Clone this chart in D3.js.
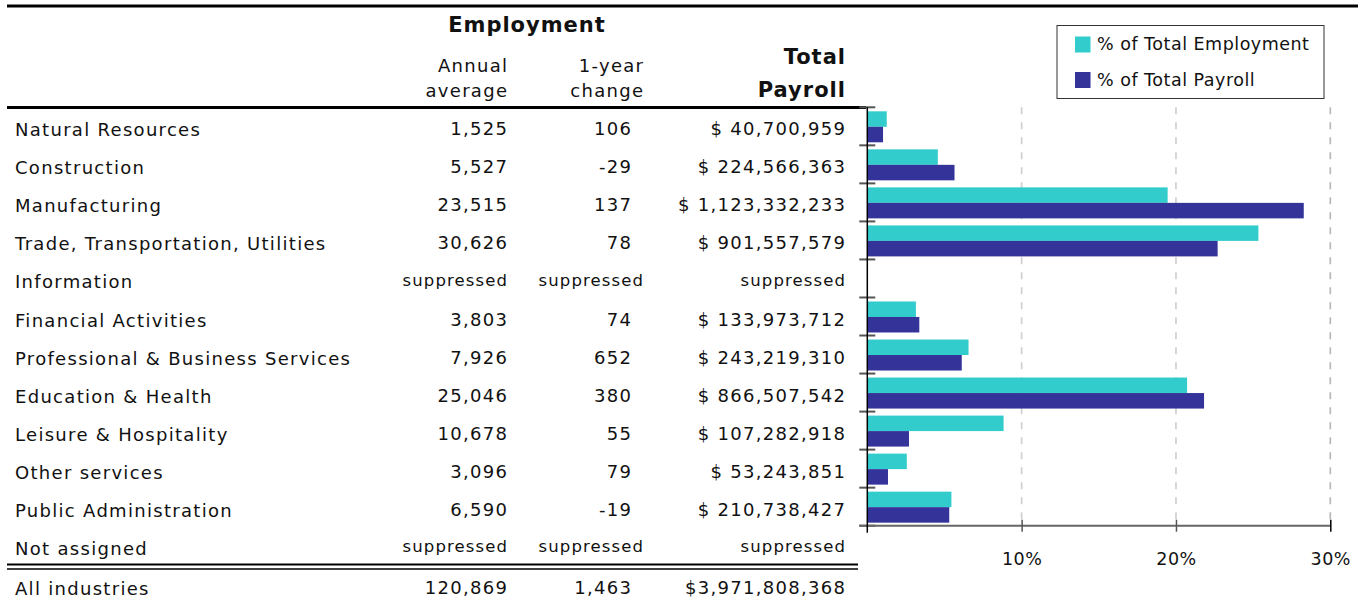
<!DOCTYPE html>
<html>
<head>
<meta charset="utf-8">
<script src="https://cdn.jsdelivr.net/npm/d3@7"></script>
<style>
  html, body { margin: 0; padding: 0; background: #fff; }
  svg { display: block; }
  text { font-family: "DejaVu Sans", sans-serif; fill: #111; }
</style>
</head>
<body>
<svg id="chart" width="1361" height="602"></svg>
<script>
// ---------------- DATA ----------------
const industries = [
  "Natural Resources", "Construction", "Manufacturing",
  "Trade, Transportation, Utilities", "Information", "Financial Activities",
  "Professional & Business Services", "Education & Health",
  "Leisure & Hospitality", "Other services", "Public Administration", "Not assigned"
];
const annualAverage = [1525, 5527, 23515, 30626, null, 3803, 7926, 25046, 10678, 3096, 6590, null];
const yearChange    = [106, -29, 137, 78, null, 74, 652, 380, 55, 79, -19, null];
const totalPayroll  = [40700959, 224566363, 1123332233, 901557579, null, 133973712,
                       243219310, 866507542, 107282918, 53243851, 210738427, null];
const totalLabel = "All industries";
const totalAnnual = 120869;
const totalChange = 1463;
const totalPay = 3971808368;

const chartCategories = industries.slice(0, 11);
const pctEmployment = [1.26, 4.57, 19.46, 25.34, null, 3.15, 6.56, 20.72, 8.83, 2.56, 5.45];
const pctPayroll    = [1.02, 5.65, 28.28, 22.70, null, 3.37, 6.12, 21.82, 2.70, 1.34, 5.31];
const seriesNames = ["% of Total Employment", "% of Total Payroll"];
const seriesColors = ["#33CCCC", "#333399"];
const xTicks = [10, 20, 30];
const headerMain = "Employment";
const headerCols = [["Annual", "average"], ["1-year", "change"]];
const headerPayroll = ["Total", "Payroll"];
const suppressedText = "suppressed";

// ---------------- LAYOUT ----------------
const svg = d3.select("#chart");
const FS = "18px";
const LS = 1.3; // letter spacing
const fmt0 = d3.format(",");
const fmt = v => fmt0(v).replace("\u2212", "-");

// top rule
svg.append("line").attr("x1", 7).attr("x2", 1358).attr("y1", 6).attr("y2", 6)
  .attr("stroke", "#000").attr("stroke-width", 3);

// table row scale
const rowY = d3.scaleBand().domain(industries).range([107.3, 107.3 + 12 * 38.04]).padding(0);
const colLabelX = 15, colAvgX = 507, colChgX = 631, colChgSupX = 643, colPayX = 845;

function txt(g, x, y, t, opts = {}) {
  const el = g.append("text").attr("x", x).attr("y", y)
    .style("font-size", opts.size || FS)
    .style("letter-spacing", (opts.ls != null ? opts.ls : LS) + "px")
    .text(t);
  if (opts.anchor) el.attr("text-anchor", opts.anchor);
  if (opts.bold) el.style("font-weight", "bold");
  return el;
}

// headers
txt(svg, 527, 32, headerMain, { anchor: "middle", size: "21px", bold: true, ls: 1 });
[[colAvgX, headerCols[0]], [colChgSupX, headerCols[1]]].forEach(([x, lines]) => {
  lines.forEach((t, i) => txt(svg, x + LS, 72 + i * 25, t, { anchor: "end" }));
});
headerPayroll.forEach((t, i) => txt(svg, colPayX + 1, 64 + i * 33, t, { anchor: "end", size: "21px", bold: true, ls: 1 }));

// header rule
svg.append("line").attr("x1", 7).attr("x2", 866).attr("y1", 107.5).attr("y2", 107.5)
  .attr("stroke", "#000").attr("stroke-width", 3);

// rows
const rows = svg.append("g");
industries.forEach((name, i) => {
  const yb = rowY(name) + 29;
  txt(rows, colLabelX, yb, name);
  const cells = [
    [annualAverage[i], colAvgX, colAvgX, v => fmt(v)],
    [yearChange[i], colChgX, colChgSupX, v => fmt(v)],
    [totalPayroll[i], colPayX, colPayX, v => "$ " + fmt(v)]
  ];
  cells.forEach(([v, x, xs, f]) => {
    if (v == null) {
      txt(rows, xs + 1, yb - 2.5, suppressedText, { anchor: "end", size: "16.5px", ls: 1.1 });
    } else {
      txt(rows, x + LS, yb - 1, f(v), { anchor: "end" });
    }
  });
});

// double rule before total
svg.append("line").attr("x1", 7).attr("x2", 858).attr("y1", 564.5).attr("y2", 564.5)
  .attr("stroke", "#000").attr("stroke-width", 2);
svg.append("line").attr("x1", 7).attr("x2", 858).attr("y1", 569).attr("y2", 569)
  .attr("stroke", "#000").attr("stroke-width", 1.5);

// total row
const totY = 595;
txt(svg, colLabelX, totY, totalLabel);
txt(svg, colAvgX + LS, totY - 1, fmt(totalAnnual), { anchor: "end" });
txt(svg, colChgX + LS, totY - 1, fmt(totalChange), { anchor: "end" });
txt(svg, colPayX + LS, totY - 1, "$" + fmt(totalPay), { anchor: "end" });

// ---------------- BAR CHART ----------------
const x = d3.scaleLinear().domain([0, 30]).range([867.3, 1330.3]);
const y = d3.scaleBand().domain(chartCategories).range([107.3, 525.7]).padding(0);
const ySub = d3.scaleBand().domain([0, 1]).range([4, 35]).padding(0);
const yTop = y.range()[0], yBot = y.range()[1];

// gridlines
svg.append("g").selectAll("line").data(xTicks).join("line")
  .attr("x1", d => x(d)).attr("x2", d => x(d))
  .attr("y1", yTop).attr("y2", yBot)
  .attr("stroke", (d, i) => i === xTicks.length - 1 ? "#b8b8b8" : "#d0d0d0")
  .attr("stroke-width", 1.7).attr("stroke-dasharray", "7,8");

// bars
const barData = [];
chartCategories.forEach((c, i) => {
  [pctEmployment[i], pctPayroll[i]].forEach((v, s) => {
    if (v != null) barData.push({ c, s, v });
  });
});
svg.append("g").selectAll("rect").data(barData).join("rect")
  .attr("x", x(0))
  .attr("y", d => y(d.c) + ySub(d.s))
  .attr("width", d => x(d.v) - x(0))
  .attr("height", ySub.bandwidth())
  .attr("fill", d => seriesColors[d.s]);

// y-axis category boundary ticks (crossing)
const boundaries = chartCategories.map(c => y(c)).concat([yBot]);
svg.append("g").selectAll("line").data(boundaries).join("line")
  .attr("x1", x(0) - 8).attr("x2", x(0) + 8)
  .attr("y1", d => d).attr("y2", d => d)
  .attr("stroke", "#555").attr("stroke-width", 2);

// x axis
const xAxis = d3.axisBottom(x).tickValues(xTicks).tickFormat(d => d + "%").tickSizeOuter(0).tickSize(6);
const gx = svg.append("g").attr("transform", `translate(0,${yBot})`).call(xAxis);
gx.select(".domain").attr("d", `M${x(0) - 8},0H${x(30)}`).attr("stroke", "#666").attr("stroke-width", 2);
gx.selectAll(".tick line").attr("y1", -6).attr("y2", 6)
  .attr("stroke", (d, i) => i === xTicks.length - 1 ? "#000" : "#555").attr("stroke-width", 1.5);
gx.selectAll(".tick text").attr("dy", null).attr("y", 39)
  .style("font-family", "DejaVu Sans, sans-serif").style("font-size", "17.5px")
  .style("letter-spacing", "0.5px").attr("fill", "#111");

// y axis line
svg.append("line").attr("x1", x(0)).attr("x2", x(0)).attr("y1", yTop).attr("y2", yBot + 7)
  .attr("stroke", "#000").attr("stroke-width", 1.5);

// legend
const lg = svg.append("g");
lg.append("rect").attr("x", 1057).attr("y", 25.5).attr("width", 267).attr("height", 73)
  .attr("fill", "#fff").attr("stroke", "#333").attr("stroke-width", 1);
seriesNames.forEach((n, i) => {
  lg.append("rect").attr("x", 1075).attr("y", 36.5 + i * 35.5).attr("width", 15.5).attr("height", 16)
    .attr("fill", seriesColors[i]);
  txt(lg, 1097, 50 + i * 35.5, n, { size: "17.5px", ls: 0.5 });
});
</script>
</body>
</html>
